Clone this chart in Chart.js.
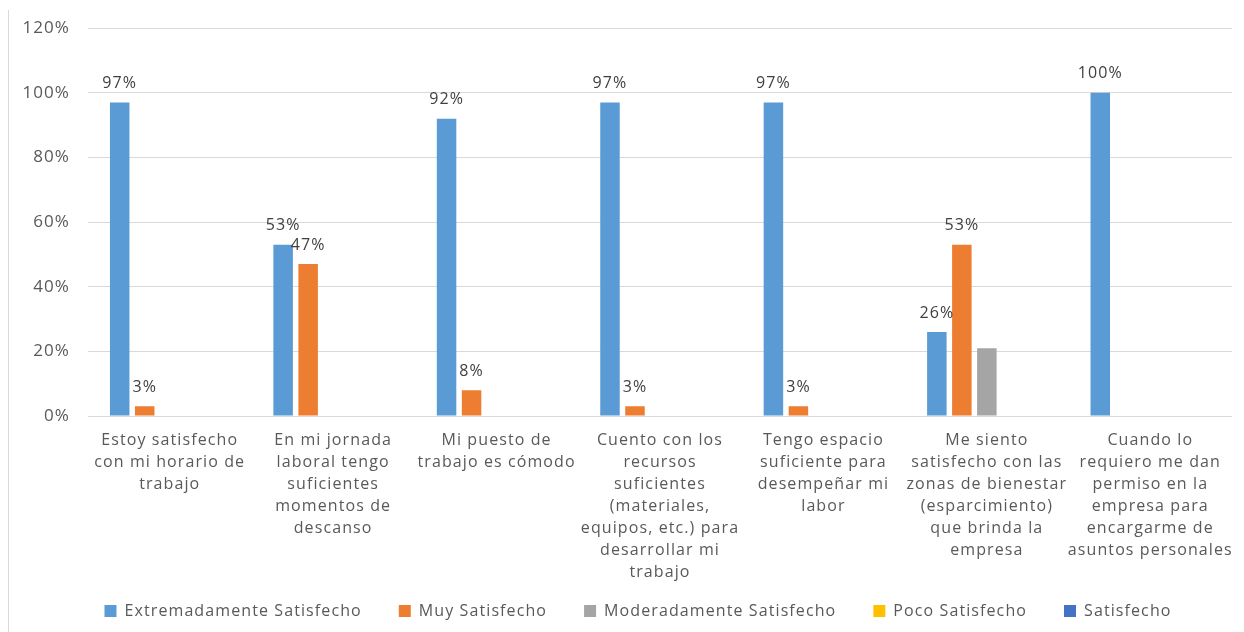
<!DOCTYPE html>
<html>
<head>
<meta charset="utf-8">
<script src="https://cdn.jsdelivr.net/npm/chart.js@4.4.1/dist/chart.umd.min.js"></script>
<style>
  html, body { margin: 0; padding: 0; background: #fff; }
  #wrap { width: 1244px; height: 632px; position: relative; }
</style>
</head>
<body>
<div id="wrap"><canvas id="chart"></canvas></div>
<script>
const categories = [
  ["Estoy satisfecho", "con mi horario de", "trabajo"],
  ["En mi jornada", "laboral tengo", "suficientes", "momentos de", "descanso"],
  ["Mi puesto de", "trabajo es cómodo"],
  ["Cuento con los", "recursos", "suficientes", "(materiales,", "equipos, etc.) para", "desarrollar mi", "trabajo"],
  ["Tengo espacio", "suficiente para", "desempeñar mi", "labor"],
  ["Me siento", "satisfecho con las", "zonas de bienestar", "(esparcimiento)", "que brinda la", "empresa"],
  ["Cuando lo", "requiero me dan", "permiso en la", "empresa para", "encargarme de", "asuntos personales"]
]

const seriesNames = ["Extremadamente Satisfecho", "Muy Satisfecho", "Moderadamente Satisfecho", "Poco Satisfecho", "Satisfecho"]
const extremadamente = [97, 53, 92, 97, 97, 26, 100]
const muy = [3, 47, 8, 3, 3, 53, 0]
const moderadamente = [0, 0, 0, 0, 0, 21, 0]
const poco = [0, 0, 0, 0, 0, 0, 0]
const satisfecho = [0, 0, 0, 0, 0, 0, 0]
const yTicks = [0, 20, 40, 60, 80, 100, 120]

const colors = ["#5B9BD5", "#ED7D31", "#A5A5A5", "#FFC000", "#4472C4"]
const labelledSeries = [0, 1]
const fontFamily = "'Open Sans', 'Noto Sans', sans-serif"
const gridColor = "#d9d9d9"
const letterSpacing = "1.1px"

// wider tracking for every text drawn on the canvas (reset whenever the canvas resizes)
const tracking = {
  id: "tracking",
  beforeUpdate(chart) { chart.ctx.letterSpacing = letterSpacing },
  beforeDraw(chart) { chart.ctx.letterSpacing = letterSpacing }
}

// centre the legend row under the plot instead of the whole canvas
const legendShift = {
  id: "legendShift",
  afterLayout(chart) {
    chart.legend.left += 22
    chart.legend.right += 22
  }
}

// value labels above the bars of the first two series
const barLabels = {
  id: "barLabels",
  afterDatasetsDraw(chart) {
    const ctx = chart.ctx
    ctx.save()
    ctx.font = `16px ${fontFamily}`
    ctx.fillStyle = "#404040"
    ctx.textAlign = "center"
    ctx.textBaseline = "middle"
    labelledSeries.forEach(i => {
      const values = chart.data.datasets[i].data
      chart.getDatasetMeta(i).data.forEach((bar, j) => {
        if (!values[j]) return
        ctx.fillText(values[j] + "%", bar.x, bar.y - 19)
      })
    })
    ctx.restore()
  }
}

// thin frame edge on the left side
const frameEdge = {
  id: "frameEdge",
  beforeDraw(chart) {
    const ctx = chart.ctx
    ctx.save()
    ctx.strokeStyle = gridColor
    ctx.lineWidth = 1
    ctx.beginPath()
    ctx.moveTo(8.5, 10)
    ctx.lineTo(8.5, chart.height)
    ctx.stroke()
    ctx.restore()
  }
}

const datasets = [extremadamente, muy, moderadamente, poco, satisfecho].map((data, i) => ({
  label: seriesNames[i],
  data,
  backgroundColor: colors[i],
  borderWidth: 0,
  categoryPercentage: 0.765,
  barPercentage: 0.78
}))

new Chart(document.getElementById("chart"), {
  type: "bar",
  data: { labels: categories, datasets },
  options: {
    responsive: true,
    maintainAspectRatio: false,
    animation: false,
    layout: { padding: { top: 27, right: 12, left: 0, bottom: 3 } },
    plugins: {
      legend: {
        position: "bottom",
        labels: {
          color: "#595959",
          boxWidth: 12,
          boxHeight: 12,
          padding: 37,
          font: { family: fontFamily, size: 16 }
        }
      },
      tooltip: { enabled: false }
    },
    scales: {
      x: {
        grid: { display: false },
        border: { display: false },
        ticks: {
          color: "#595959",
          maxRotation: 0,
          autoSkip: false,
          padding: 5,
          font: { family: fontFamily, size: 16, lineHeight: 1.375 }
        },
        afterFit(scale) {
          scale.height = 150
          // long wrapped labels run past the axis box, so leave them unclipped
          scale._computeLabelArea = () => null
        }
      },
      y: {
        min: 0,
        max: 120,
        afterBuildTicks(scale) { scale.ticks = yTicks.map(v => ({ value: v })) },
        grid: { color: gridColor, drawTicks: false },
        border: { display: false },
        ticks: {
          color: "#595959",
          padding: 18,
          font: { family: fontFamily, size: 17 },
          callback: v => v + "%"
        },
        afterFit(scale) { scale.width = 88 }
      }
    }
  },
  plugins: [tracking, legendShift, frameEdge, barLabels]
})
</script>
</body>
</html>
